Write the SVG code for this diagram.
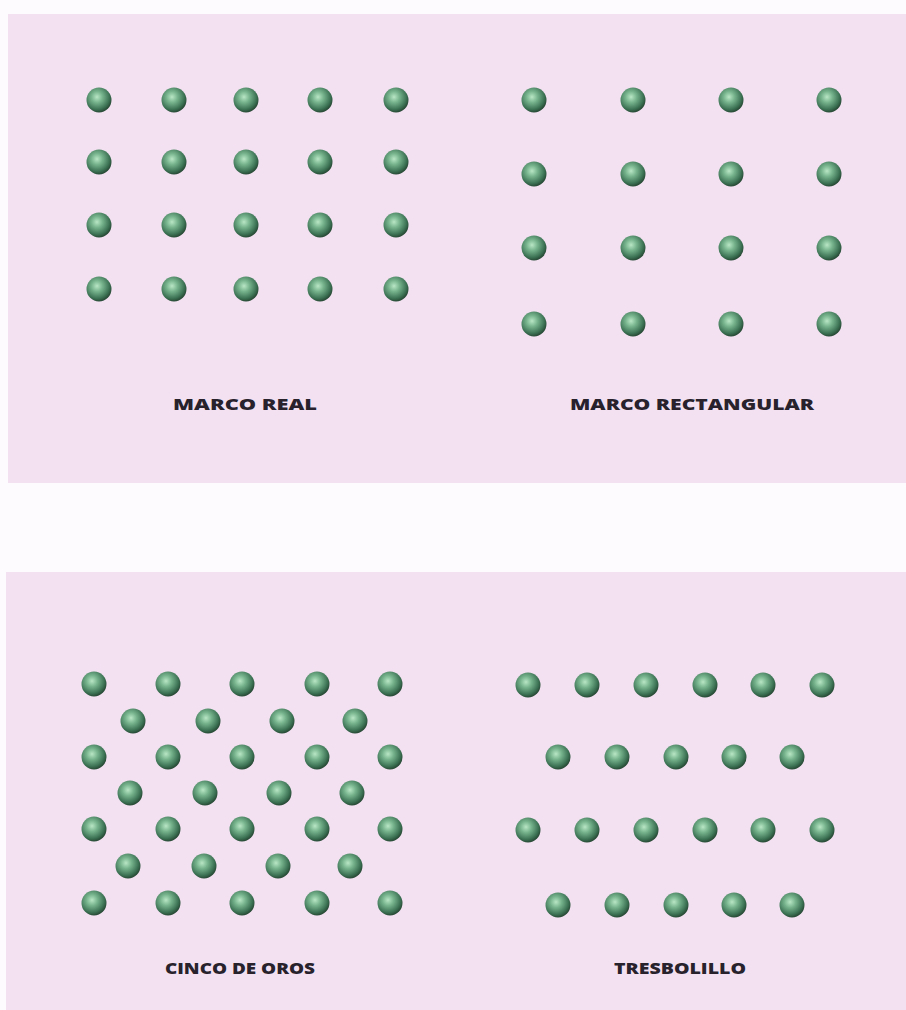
<svg xmlns="http://www.w3.org/2000/svg" width="906" height="1010" viewBox="0 0 906 1010">
<defs>
<radialGradient id="ball" cx="0.42" cy="0.38" r="0.62">
<stop offset="0" stop-color="#b9e6c6"/>
<stop offset="0.35" stop-color="#78b58e"/>
<stop offset="0.8" stop-color="#3c7254"/>
<stop offset="1" stop-color="#284a36"/>
</radialGradient>
<symbol id="dot" overflow="visible"><circle r="12.5" fill="url(#ball)"/></symbol>
</defs>
<style>
.panel{fill:#f3e1f1}
.lbl{font-family:"Open Sans","Liberation Sans",sans-serif;font-weight:800;font-size:16px;fill:#27222c;text-anchor:middle}
</style>
<rect width="906" height="1010" fill="#fefbfe"/>
<rect class="panel" x="8" y="14" width="898" height="469"/>
<rect class="panel" x="6" y="572" width="900" height="438"/>
<g id="marco-real">
<use href="#dot" x="99" y="100"/><use href="#dot" x="174" y="100"/><use href="#dot" x="246" y="100"/><use href="#dot" x="320" y="100"/><use href="#dot" x="396" y="100"/>
<use href="#dot" x="99" y="162"/><use href="#dot" x="174" y="162"/><use href="#dot" x="246" y="162"/><use href="#dot" x="320" y="162"/><use href="#dot" x="396" y="162"/>
<use href="#dot" x="99" y="225"/><use href="#dot" x="174" y="225"/><use href="#dot" x="246" y="225"/><use href="#dot" x="320" y="225"/><use href="#dot" x="396" y="225"/>
<use href="#dot" x="99" y="289"/><use href="#dot" x="174" y="289"/><use href="#dot" x="246" y="289"/><use href="#dot" x="320" y="289"/><use href="#dot" x="396" y="289"/>
<text class="lbl" x="245" y="410" textLength="144" lengthAdjust="spacingAndGlyphs">MARCO REAL</text>
</g>
<g id="marco-rectangular">
<use href="#dot" x="534" y="100"/><use href="#dot" x="633" y="100"/><use href="#dot" x="731" y="100"/><use href="#dot" x="829" y="100"/>
<use href="#dot" x="534" y="174"/><use href="#dot" x="633" y="174"/><use href="#dot" x="731" y="174"/><use href="#dot" x="829" y="174"/>
<use href="#dot" x="534" y="248"/><use href="#dot" x="633" y="248"/><use href="#dot" x="731" y="248"/><use href="#dot" x="829" y="248"/>
<use href="#dot" x="534" y="324"/><use href="#dot" x="633" y="324"/><use href="#dot" x="731" y="324"/><use href="#dot" x="829" y="324"/>
<text class="lbl" x="692" y="410" textLength="244" lengthAdjust="spacingAndGlyphs">MARCO RECTANGULAR</text>
</g>
<g id="cinco-de-oros">
<use href="#dot" x="94" y="684"/><use href="#dot" x="168" y="684"/><use href="#dot" x="242" y="684"/><use href="#dot" x="317" y="684"/><use href="#dot" x="390" y="684"/>
<use href="#dot" x="133" y="721"/><use href="#dot" x="208" y="721"/><use href="#dot" x="282" y="721"/><use href="#dot" x="355" y="721"/>
<use href="#dot" x="94" y="757"/><use href="#dot" x="168" y="757"/><use href="#dot" x="242" y="757"/><use href="#dot" x="317" y="757"/><use href="#dot" x="390" y="757"/>
<use href="#dot" x="130" y="793"/><use href="#dot" x="205" y="793"/><use href="#dot" x="279" y="793"/><use href="#dot" x="352" y="793"/>
<use href="#dot" x="94" y="829"/><use href="#dot" x="168" y="829"/><use href="#dot" x="242" y="829"/><use href="#dot" x="317" y="829"/><use href="#dot" x="390" y="829"/>
<use href="#dot" x="128" y="866"/><use href="#dot" x="204" y="866"/><use href="#dot" x="278" y="866"/><use href="#dot" x="350" y="866"/>
<use href="#dot" x="94" y="903"/><use href="#dot" x="168" y="903"/><use href="#dot" x="242" y="903"/><use href="#dot" x="317" y="903"/><use href="#dot" x="390" y="903"/>
<text class="lbl" x="240" y="974" textLength="150" lengthAdjust="spacingAndGlyphs">CINCO DE OROS</text>
</g>
<g id="tresbolillo">
<use href="#dot" x="528" y="685"/><use href="#dot" x="587" y="685"/><use href="#dot" x="646" y="685"/><use href="#dot" x="705" y="685"/><use href="#dot" x="763" y="685"/><use href="#dot" x="822" y="685"/>
<use href="#dot" x="558" y="757"/><use href="#dot" x="617" y="757"/><use href="#dot" x="676" y="757"/><use href="#dot" x="734" y="757"/><use href="#dot" x="792" y="757"/>
<use href="#dot" x="528" y="830"/><use href="#dot" x="587" y="830"/><use href="#dot" x="646" y="830"/><use href="#dot" x="705" y="830"/><use href="#dot" x="763" y="830"/><use href="#dot" x="822" y="830"/>
<use href="#dot" x="558" y="905"/><use href="#dot" x="617" y="905"/><use href="#dot" x="676" y="905"/><use href="#dot" x="734" y="905"/><use href="#dot" x="792" y="905"/>
<text class="lbl" x="680" y="974" textLength="132" lengthAdjust="spacingAndGlyphs">TRESBOLILLO</text>
</g>
</svg>
